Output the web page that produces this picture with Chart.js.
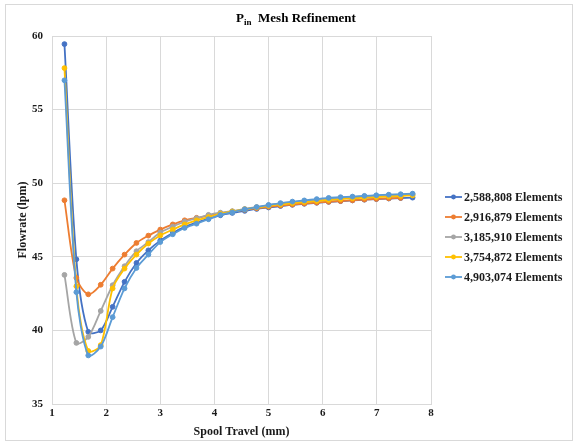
<!DOCTYPE html>
<html>
<head>
<meta charset="utf-8">
<script src="https://cdn.jsdelivr.net/npm/chart.js@4.4.1/dist/chart.umd.min.js"></script>
<style>
  html, body { margin: 0; padding: 0; background: #fff; }
  #wrap { width: 578px; height: 447px; position: relative; }
</style>
</head>
<body>
<div id="wrap"><canvas id="chart"></canvas></div>
<script>
const travel = [1.23, 1.45, 1.67, 1.90, 2.12, 2.34, 2.56, 2.78, 3.00, 3.23, 3.45, 3.67, 3.89, 4.11, 4.33,
  4.56, 4.78, 5.00, 5.22, 5.44, 5.66, 5.89, 6.11, 6.33, 6.55, 6.77, 6.99, 7.22, 7.44, 7.66];

const mesh2588808 = [59.45, 44.83, 39.9, 40.0, 41.6, 43.3, 44.58, 45.44, 46.1, 46.62, 47.03, 47.33, 47.6, 47.82, 47.98,
  48.12, 48.25, 48.35, 48.45, 48.53, 48.6, 48.67, 48.73, 48.78, 48.83, 48.88, 48.92, 48.96, 48.99, 49.02];
const mesh2916879 = [48.84, 43.57, 42.45, 43.1, 44.2, 45.15, 45.94, 46.44, 46.85, 47.2, 47.48, 47.65, 47.8, 47.95, 48.08,
  48.2, 48.3, 48.4, 48.48, 48.55, 48.62, 48.68, 48.74, 48.79, 48.84, 48.89, 48.93, 48.97, 49.0];
const mesh3185910 = [43.77, 39.15, 39.56, 41.32, 43.07, 44.36, 45.38, 46.0, 46.65, 47.05, 47.38, 47.62, 47.85, 48.0, 48.1,
  48.25, 48.38, 48.5, 48.6, 48.7, 48.78, 48.86, 48.94, 49.0, 49.05, 49.1, 49.14, 49.18, 49.21, 49.25];
const mesh3754872 = [57.82, 43.0, 38.6, 39.0, 42.85, 44.2, 45.15, 45.9, 46.45, 46.85, 47.2, 47.48, 47.7, 47.92, 48.07,
  48.22, 48.35, 48.46, 48.56, 48.64, 48.72, 48.79, 48.86, 48.92, 48.97, 49.02, 49.06, 49.1, 49.13, 49.17];
const mesh4903074 = [56.99, 42.6, 38.3, 38.9, 40.9, 42.85, 44.24, 45.15, 46.0, 46.53, 46.96, 47.25, 47.55, 47.85, 48.02,
  48.22, 48.38, 48.52, 48.65, 48.75, 48.83, 48.92, 49.0, 49.05, 49.09, 49.14, 49.18, 49.22, 49.25, 49.29];

const seriesLabels = ["2,588,808 Elements", "2,916,879 Elements", "3,185,910 Elements", "3,754,872 Elements", "4,903,074 Elements"];
const seriesValues = [mesh2588808, mesh2916879, mesh3185910, mesh3754872, mesh4903074];
const seriesColors = ["#4472C4", "#ED7D31", "#A5A5A5", "#FFC000", "#5B9BD5"];

const yTicks = [35, 40, 45, 50, 55, 60];
const xTicks = [1, 2, 3, 4, 5, 6, 7, 8];

const serif = "'Liberation Serif', 'Times New Roman', serif";
const gridColor = "#d9d9d9";
const textColor = "#1a1a1a";

function toPoints(values) {
  return values.map((y, i) => ({ x: travel[i], y }));
}

const datasets = seriesValues.map((values, i) => ({
  label: seriesLabels[i],
  data: toPoints(values),
  borderColor: seriesColors[i],
  backgroundColor: seriesColors[i],
  pointBackgroundColor: seriesColors[i],
  pointBorderColor: seriesColors[i],
  pointRadius: 2.4,
  pointBorderWidth: 1,
  borderWidth: 1.8,
  tension: 0.3,
  order: seriesValues.length - 1 - i,
}));

// white background and the thin frame round the whole chart
const framePlugin = {
  id: "frame",
  beforeDraw(chart) {
    const ctx = chart.ctx;
    ctx.save();
    ctx.fillStyle = "#fff";
    ctx.fillRect(0, 0, chart.width, chart.height);
    ctx.strokeStyle = "#d9d9d9";
    ctx.lineWidth = 1;
    ctx.strokeRect(5.5, 4.5, 567, 436);
    ctx.restore();
  },
};

// title with subscript "in"
const titlePlugin = {
  id: "pinTitle",
  afterDraw(chart) {
    const ctx = chart.ctx;
    const big = `bold 13px ${serif}`;
    const small = `bold 9px ${serif}`;
    const rest = "  Mesh Refinement";
    ctx.save();
    ctx.fillStyle = "#000";
    ctx.textBaseline = "alphabetic";
    ctx.textAlign = "left";
    ctx.font = big;
    const wP = ctx.measureText("P").width;
    const wRest = ctx.measureText(rest).width;
    ctx.font = small;
    const wSub = ctx.measureText("in").width;
    let x = 296 - (wP + wSub + wRest) / 2;
    const y = 22;
    ctx.font = big;
    ctx.fillText("P", x, y);
    x += wP;
    ctx.font = small;
    ctx.fillText("in", x, y + 3);
    x += wSub;
    ctx.font = big;
    ctx.fillText(rest, x, y);
    ctx.restore();
  },
};

const legendPlugin = {
  id: "sideLegend",
  afterDraw(chart) {
    const ctx = chart.ctx;
    ctx.save();
    ctx.font = `bold 12px ${serif}`;
    ctx.textBaseline = "middle";
    ctx.textAlign = "left";
    chart.data.datasets.forEach((ds, i) => {
      const y = 197 + i * 20;
      ctx.strokeStyle = ds.borderColor;
      ctx.lineWidth = 1.8;
      ctx.beginPath();
      ctx.moveTo(445, y);
      ctx.lineTo(462, y);
      ctx.stroke();
      ctx.fillStyle = ds.borderColor;
      ctx.beginPath();
      ctx.arc(453.5, y, 2.4, 0, Math.PI * 2);
      ctx.fill();
      ctx.fillStyle = textColor;
      ctx.fillText(ds.label, 464, y + 1);
    });
    ctx.restore();
  },
};

new Chart(document.getElementById("chart").getContext("2d"), {
  type: "line",
  data: { datasets },
  options: {
    animation: false,
    responsive: true,
    maintainAspectRatio: false,
    layout: { padding: { top: 36, right: 147, left: 0, bottom: 0 } },
    scales: {
      x: {
        type: "linear",
        min: 1,
        max: 8,
        afterFit: (scale) => { scale.height = 43; },
        afterBuildTicks: (scale) => { scale.ticks = xTicks.map((v) => ({ value: v })); },
        ticks: { color: textColor, font: { family: serif, size: 11, weight: "bold" }, padding: 3 },
        grid: { color: gridColor, drawTicks: false },
        border: { color: gridColor },
        title: {
          display: true,
          text: "Spool Travel (mm)",
          color: textColor,
          font: { family: serif, size: 12, weight: "bold" },
          padding: { bottom: 8 },
        },
      },
      y: {
        min: 35,
        max: 60,
        afterFit: (scale) => { scale.width = 52; },
        afterBuildTicks: (scale) => { scale.ticks = yTicks.map((v) => ({ value: v })); },
        ticks: { color: textColor, font: { family: serif, size: 11, weight: "bold" }, padding: 9 },
        grid: { color: gridColor, drawTicks: false },
        border: { color: gridColor },
        title: {
          display: true,
          text: "Flowrate (lpm)",
          color: textColor,
          font: { family: serif, size: 12, weight: "bold" },
          padding: { top: 16 },
        },
      },
    },
    plugins: {
      legend: { display: false },
      tooltip: { enabled: false },
    },
  },
  plugins: [framePlugin, titlePlugin, legendPlugin],
});
</script>
</body>
</html>
